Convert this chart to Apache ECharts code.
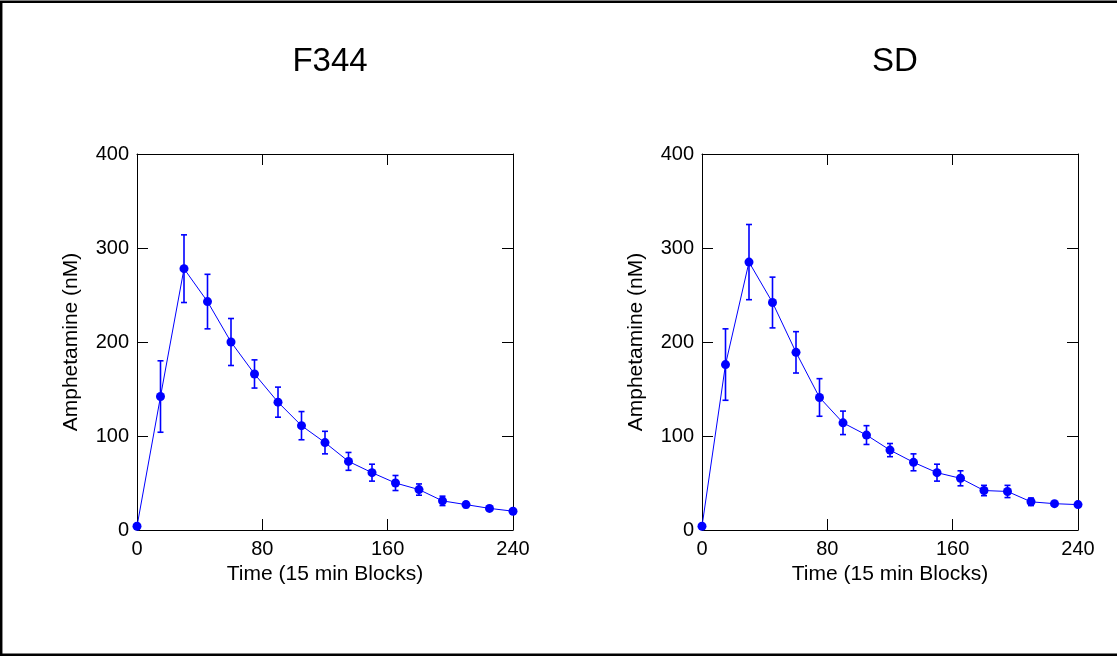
<!DOCTYPE html>
<html>
<head>
<meta charset="utf-8">
<script src="https://cdn.jsdelivr.net/npm/echarts@6/dist/echarts.min.js"></script>
<style>
  html, body { margin: 0; padding: 0; background: #fff; }
  #chart { width: 1117px; height: 656px; }
</style>
</head>
<body>
<div id="chart"></div>
<script>
// ---- Data ----
const times = [0, 15, 30, 45, 60, 75, 90, 105, 120, 135, 150, 165, 180, 195, 210, 225, 240];
const panelTitles = ['F344', 'SD'];
const f344Mean = [4, 142, 278, 243, 200, 166, 136, 111, 93, 73, 61, 50, 43, 31, 27, 23, 20];
const f344Err  = [2, 38, 36, 29, 25, 15, 16, 15, 12, 9.5, 9, 8, 6, 5, 3, 2, 2];
const sdMean   = [4, 176, 285, 242, 189, 141, 114, 101, 85, 72, 61, 55, 42, 41, 30, 28, 27];
const sdErr    = [2, 38, 40, 27, 22, 20, 12.5, 10, 7, 9, 9, 8, 5.5, 6.5, 4, 2, 2];
const xTicks = [0, 80, 160, 240];
const yTicks = [0, 100, 200, 300, 400];
const xAxisName = 'Time (15 min Blocks)';
const yAxisName = 'Amphetamine (nM)';

const BLUE = '#0000ff';
const FONT = 'Liberation Sans, Arial, sans-serif';

const grids = [
  { left: 137, top: 154, width: 376, height: 376 },
  { left: 702, top: 154, width: 376, height: 376 }
];

const xAxes = [], yAxes = [], series = [], titles = [];
const datasets = [[f344Mean, f344Err], [sdMean, sdErr]];

grids.forEach((g, gi) => {
  const common = {
    type: 'value', gridIndex: gi,
    axisLine: { show: true, onZero: false, lineStyle: { color: '#000', width: 1 } },
    axisTick: { show: true, inside: true, length: 11, lineStyle: { color: '#000', width: 1 } },
    splitLine: { show: false }
  };
  // bottom x
  xAxes.push(Object.assign({}, common, {
    position: 'bottom', min: xTicks[0], max: xTicks[xTicks.length - 1], interval: xTicks[1] - xTicks[0],
    axisLabel: { show: true, color: '#000', fontSize: 20, fontFamily: FONT, margin: 9 },
    name: xAxisName, nameLocation: 'middle', nameGap: 33,
    nameTextStyle: { color: '#000', fontSize: 21, fontFamily: FONT }
  }));
  // top x mirror
  xAxes.push(Object.assign({}, common, {
    position: 'top', min: xTicks[0], max: xTicks[xTicks.length - 1], interval: xTicks[1] - xTicks[0],
    axisLabel: { show: false }
  }));
  // left y
  yAxes.push(Object.assign({}, common, {
    position: 'left', min: yTicks[0], max: yTicks[yTicks.length - 1], interval: yTicks[1] - yTicks[0],
    axisLabel: { show: true, color: '#000', fontSize: 20, fontFamily: FONT, margin: 8 },
    name: yAxisName, nameLocation: 'middle', nameGap: 55, nameRotate: 90,
    nameTextStyle: { color: '#000', fontSize: 21, fontFamily: FONT }
  }));
  // right y mirror
  yAxes.push(Object.assign({}, common, {
    position: 'right', min: yTicks[0], max: yTicks[yTicks.length - 1], interval: yTicks[1] - yTicks[0],
    axisLabel: { show: false }
  }));

  const [mean, err] = datasets[gi];
  const xi = gi * 2, yi = gi * 2;

  series.push({
    type: 'custom', xAxisIndex: xi, yAxisIndex: yi, z: 3,
    data: times.map((t, i) => [t, mean[i] - err[i], mean[i] + err[i]]),
    renderItem: function (params, api) {
      const x = api.value(0);
      const lo = api.coord([x, api.value(1)]);
      const hi = api.coord([x, api.value(2)]);
      const cap = 3;
      const style = { stroke: BLUE, lineWidth: 1.6, fill: null };
      return {
        type: 'group',
        children: [
          { type: 'line', shape: { x1: lo[0], y1: lo[1], x2: hi[0], y2: hi[1] }, style: style },
          { type: 'line', shape: { x1: lo[0] - cap, y1: lo[1], x2: lo[0] + cap, y2: lo[1] }, style: style },
          { type: 'line', shape: { x1: hi[0] - cap, y1: hi[1], x2: hi[0] + cap, y2: hi[1] }, style: style }
        ]
      };
    },
    silent: true, animation: false
  });
  series.push({
    type: 'line', xAxisIndex: xi, yAxisIndex: yi, z: 4,
    data: times.map((t, i) => [t, mean[i]]),
    symbol: 'circle', symbolSize: 9, showSymbol: true,
    lineStyle: { color: BLUE, width: 1 },
    itemStyle: { color: BLUE },
    animation: false, silent: true
  });

  titles.push({
    text: panelTitles[gi],
    left: g.left + g.width / 2, top: 40, textAlign: 'center',
    textStyle: { color: '#000', fontSize: 33, fontWeight: 'normal', fontFamily: FONT }
  });
});

const chart = echarts.init(document.getElementById('chart'), null, { renderer: 'canvas' });
chart.setOption({
  backgroundColor: '#fff',
  animation: false,
  title: titles,
  grid: grids,
  xAxis: xAxes,
  yAxis: yAxes,
  series: series,
  graphic: [{
    type: 'rect', silent: true,
    shape: { x: 1.2, y: 1.8, width: 1125, height: 653 },
    style: { fill: null, stroke: '#000', lineWidth: 2.5 }
  }]
});
</script>
</body>
</html>
